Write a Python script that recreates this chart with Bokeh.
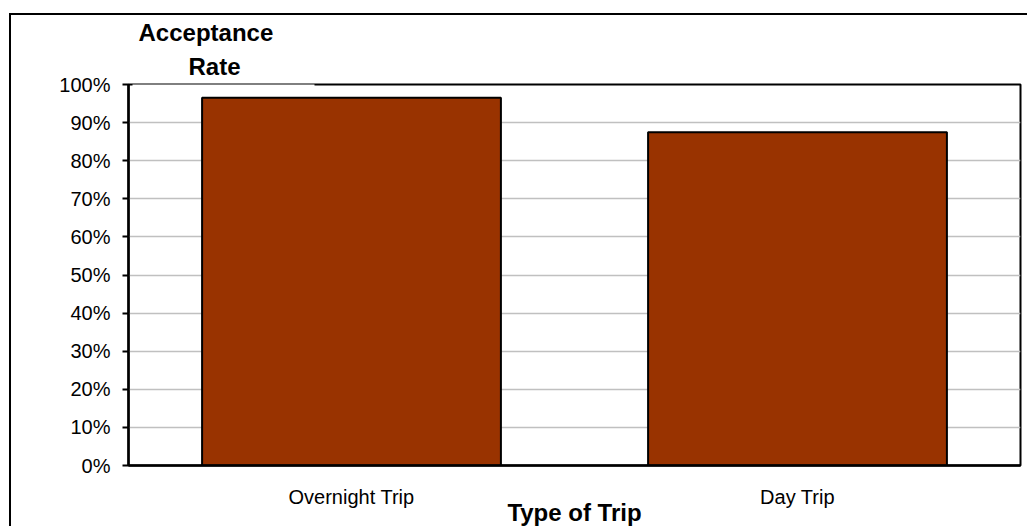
from bokeh.plotting import figure
from bokeh.models import (ColumnDataSource, FactorRange, Range1d, FixedTicker,
                          NumeralTickFormatter, Title, BoxAnnotation)
from bokeh.embed import file_html
from bokeh.resources import INLINE

# Acceptance rate by type of trip
trip_types = ["Overnight Trip", "Day Trip"]
acceptance = [0.965, 0.875]
y_ticks = [0.0, 0.1, 0.2, 0.3, 0.4, 0.5, 0.6, 0.7, 0.8, 0.9, 1.0]

FONT = "Liberation Sans"

src = ColumnDataSource(data=dict(trip=trip_types, rate=acceptance))

p = figure(width=1018, height=513, output_backend="svg", toolbar_location=None,
           x_range=FactorRange(*trip_types, range_padding=0.0),
           y_range=Range1d(0, 1))
p.min_border_left = 117
p.min_border_right = 9
p.min_border_top = 69
p.min_border_bottom = 61
p.background_fill_color = "white"
p.border_fill_color = "white"

# outer chart border (left and top edges fall inside the window)
p.styles = {"border-left": "2.5px solid black", "border-top": "2.5px solid black",
            "margin-left": "9px", "margin-top": "13px"}

p.vbar(x="trip", top="rate", width=0.67, source=src,
       fill_color="#993300", line_color="black", line_width=2)

# plot-area frame
p.outline_line_color = "black"
p.outline_line_width = 2
p.outline_line_alpha = 1.0

# gridlines
p.xgrid.grid_line_color = None
p.ygrid.grid_line_color = "#c0c0c0"
p.ygrid.grid_line_width = 1.5
p.ygrid.ticker = FixedTicker(ticks=y_ticks)

# y axis
ya = p.yaxis[0]
ya.ticker = FixedTicker(ticks=y_ticks)
ya.formatter = NumeralTickFormatter(format="0%")
ya.axis_line_color = "black"
ya.axis_line_width = 2.5
ya.major_tick_line_color = "black"
ya.major_tick_line_width = 2
ya.major_tick_out = 6
ya.major_tick_in = 0
ya.minor_tick_line_color = None
ya.major_label_standoff = 12
ya.major_label_text_font = FONT
ya.major_label_text_font_size = "20px"
ya.major_label_text_color = "black"

# x axis
xa = p.xaxis[0]
xa.axis_line_color = "black"
xa.axis_line_width = 2.5
xa.major_tick_line_color = None
xa.minor_tick_line_color = None
xa.major_tick_out = 0
xa.major_label_standoff = 20
xa.major_label_text_font = FONT
xa.major_label_text_font_size = "20px"
xa.major_label_text_color = "black"
xa.axis_label = "Type of Trip"
xa.axis_label_standoff = -12
xa.axis_label_text_font = FONT
xa.axis_label_text_font_size = "24px"
xa.axis_label_text_font_style = "bold"
xa.axis_label_text_color = "black"

# white box behind the value-axis title
p.add_layout(BoxAnnotation(left=119, right=301, top=64, bottom=74,
                           left_units="canvas", right_units="canvas",
                           top_units="canvas", bottom_units="canvas",
                           fill_color="white", fill_alpha=1.0, line_color=None,
                           level="overlay"))

# two-line value-axis title, centred over the left end of the axis
p.add_layout(Title(text="Rate", align="left", offset=60, standoff=10,
                   text_font=FONT, text_font_size="24px", text_font_style="bold",
                   text_color="black"), "above")
p.add_layout(Title(text="Acceptance", align="left", offset=10, standoff=0,
                   text_font=FONT, text_font_size="24px", text_font_style="bold",
                   text_color="black"), "above")

open("out.html", "w").write(file_html(p, INLINE))
